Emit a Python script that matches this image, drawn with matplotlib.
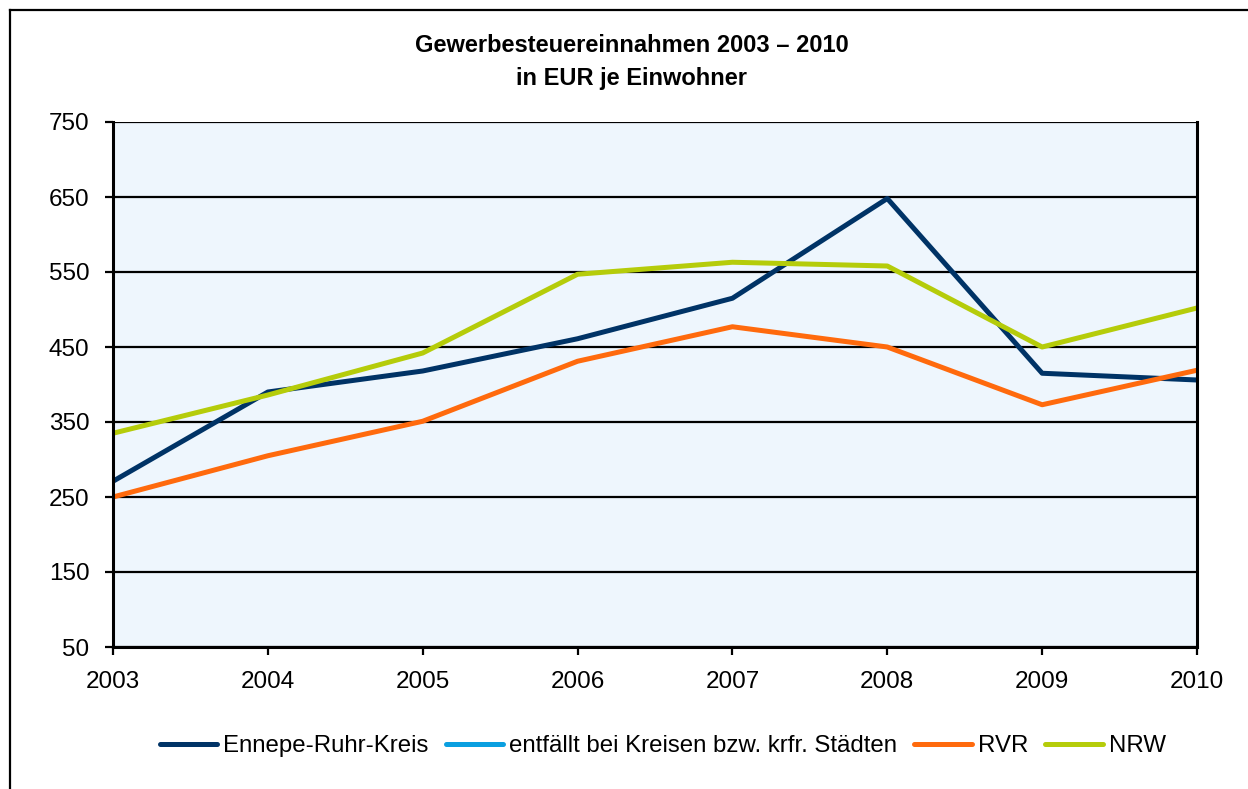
import matplotlib.pyplot as plt
from matplotlib.lines import Line2D

plt.rcParams['font.family'] = ['Liberation Sans', 'DejaVu Sans']

years = [2003, 2004, 2005, 2006, 2007, 2008, 2009, 2010]
ennepe = [271, 390, 418, 461, 515, 648, 415, 406]
kreise = []  # entfällt bei Kreisen bzw. krfr. Städten
rvr = [250, 305, 351, 431, 477, 450, 373, 419]
nrw = [335, 386, 442, 547, 563, 558, 450, 502]
yticks = [50, 150, 250, 350, 450, 550, 650, 750]

fig = plt.figure(figsize=(12.48, 7.89), dpi=100)
ax = fig.add_axes([113 / 1248, 1 - 647 / 789, (1197 - 113) / 1248, (647 - 122) / 789])
ax.set_facecolor('#EEF6FD')

ax.plot(years, ennepe, color='#003366', lw=3.6, label='Ennepe-Ruhr-Kreis', solid_capstyle='butt')
ax.plot(years[:len(kreise)], kreise, color='#0A9FE0', lw=3.6, label='entfällt bei Kreisen bzw. krfr. Städten')
ax.plot(years, rvr, color='#FF6A0D', lw=3.6, label='RVR', solid_capstyle='butt')
ax.plot(years, nrw, color='#B5CC0A', lw=3.6, label='NRW', solid_capstyle='butt')

ax.set_xlim(2003, 2010)
ax.set_ylim(50, 750)
ax.set_xticks(years)
ax.set_yticks(yticks)
ax.yaxis.grid(True, color='black', lw=1.6)
ax.set_axisbelow(True)
ax.tick_params(labelsize=17.5, length=6, width=1.6, direction='out', colors='black')
ax.tick_params(axis='x', pad=11)
ax.tick_params(axis='y', pad=11)
for s in ['left', 'right', 'bottom']:
    ax.spines[s].set_linewidth(2.2)
ax.spines['top'].set_visible(False)

fig.text(0.506, 1 - 62 / 789, 'Gewerbesteuereinnahmen 2003 – 2010\nin EUR je Einwohner',
         ha='center', va='center', fontsize=17, fontweight='bold', linespacing=1.5)

leg = fig.legend(loc='center', bbox_to_anchor=(0.531, 1 - 746 / 789), ncol=4, frameon=False,
                 fontsize=17.3, handlelength=2.4, handletextpad=0.25, columnspacing=0.7)
for h in leg.get_lines():
    h.set_solid_capstyle('round')

# outer chart frame (cut off at right and bottom)
fig.add_artist(Line2D([9.5 / 1248, 9.5 / 1248], [0, 1 - 9.5 / 789], color='black', lw=1.6))
fig.add_artist(Line2D([9.5 / 1248, 1], [1 - 9.5 / 789, 1 - 9.5 / 789], color='black', lw=1.6))

fig.savefig('out.png', dpi=100)
